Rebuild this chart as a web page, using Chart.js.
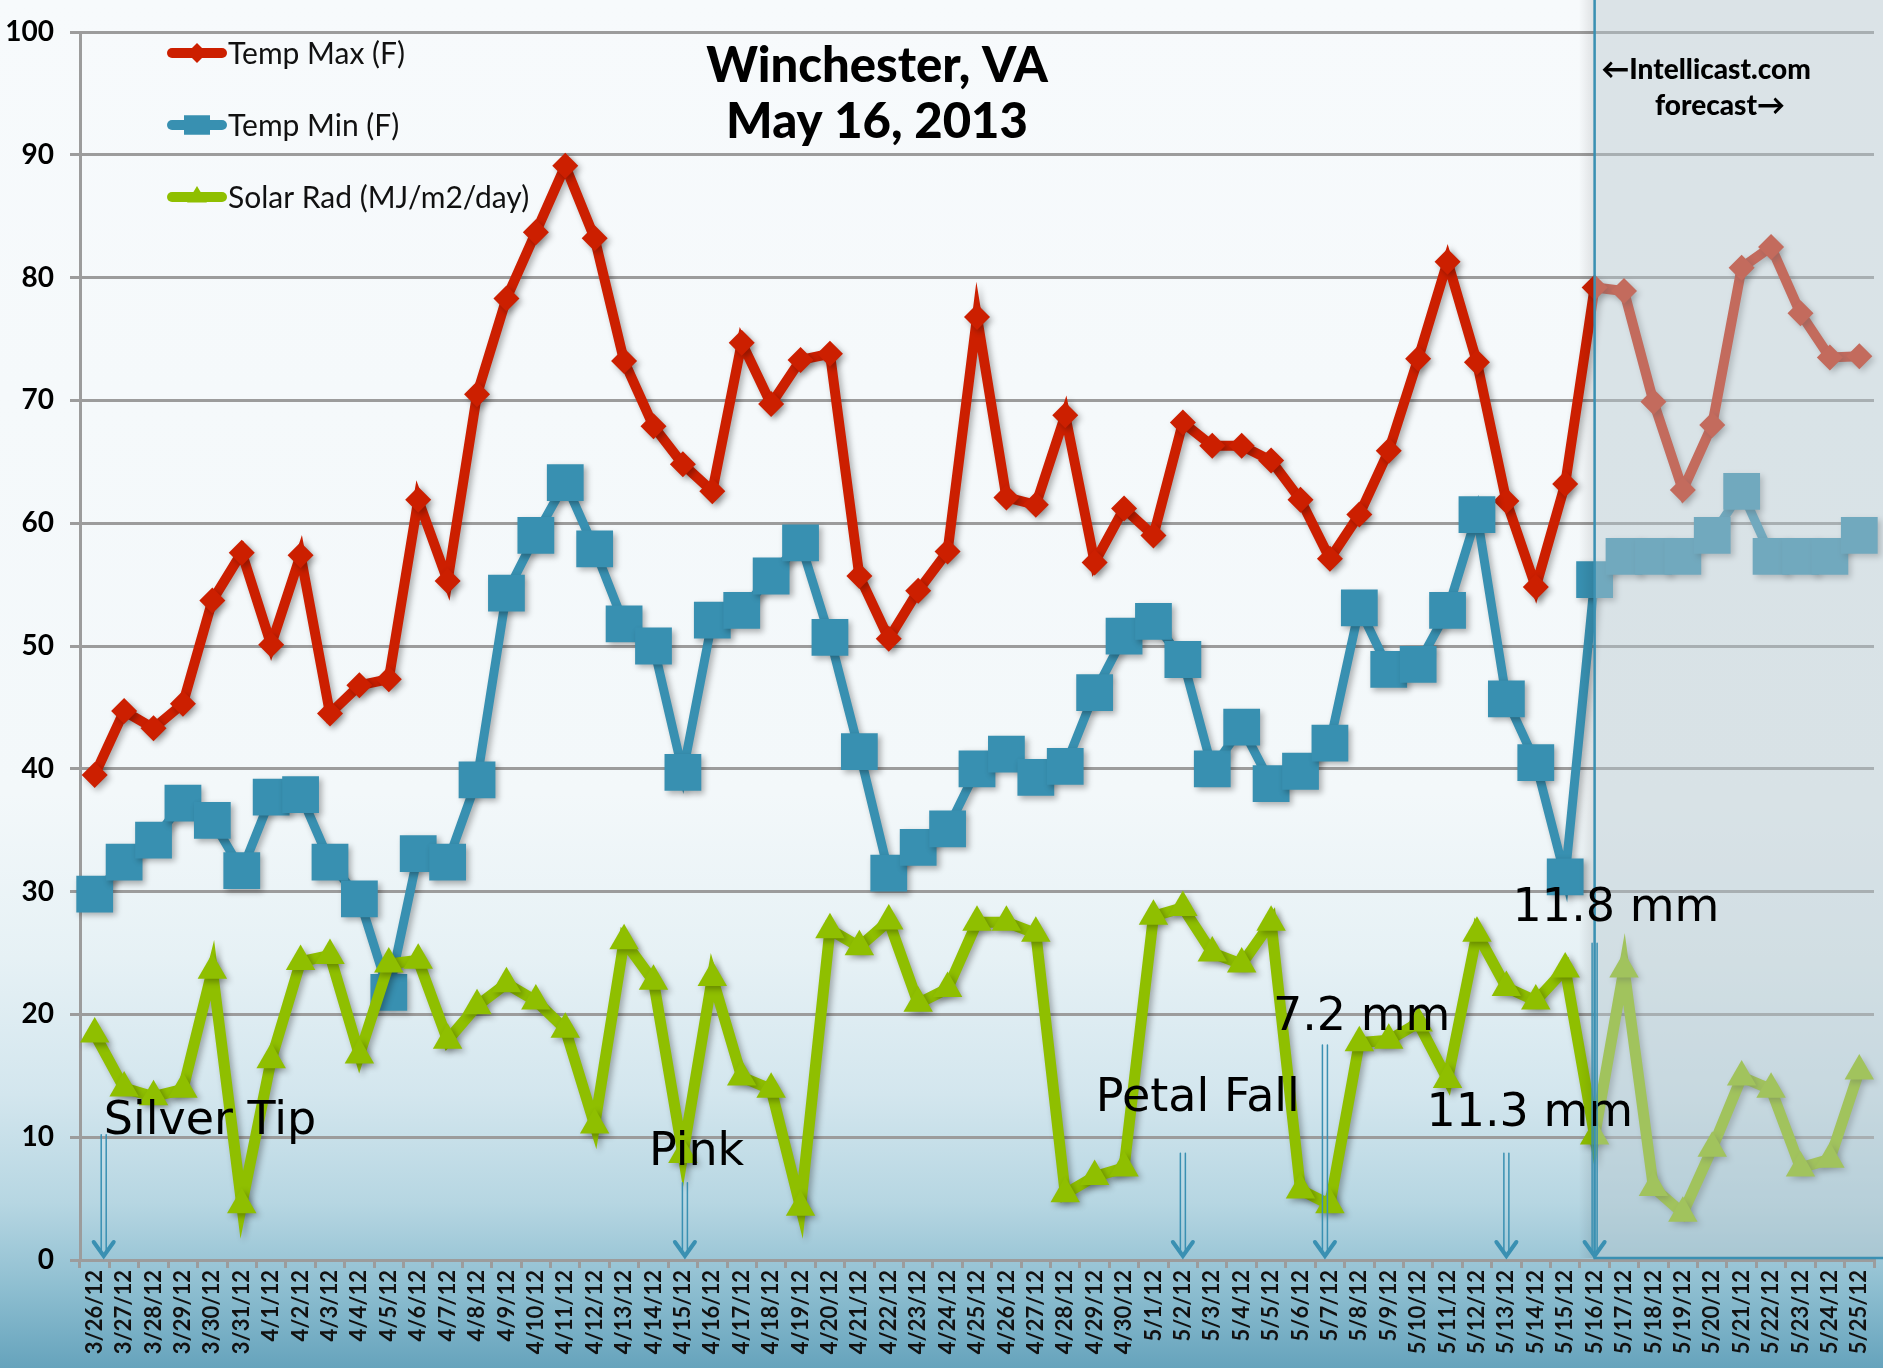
<!DOCTYPE html>
<html>
<head>
<meta charset="utf-8">
<title>Winchester, VA</title>
<script src="https://cdn.jsdelivr.net/npm/chart.js@4.4.0/dist/chart.umd.min.js"></script>
<style>
  html, body { margin: 0; padding: 0; background: #f6f9fc; overflow: hidden; width: 1883px; height: 1368px; }
  canvas { display: block; }
</style>
</head>
<body>
<canvas id="grafico" width="1883" height="1368"></canvas>
<script>
const datas = [
  "3/26/12", "3/27/12", "3/28/12", "3/29/12", "3/30/12", "3/31/12",
  "4/1/12", "4/2/12", "4/3/12", "4/4/12", "4/5/12", "4/6/12", "4/7/12", "4/8/12", "4/9/12", "4/10/12",
  "4/11/12", "4/12/12", "4/13/12", "4/14/12", "4/15/12", "4/16/12", "4/17/12", "4/18/12", "4/19/12", "4/20/12",
  "4/21/12", "4/22/12", "4/23/12", "4/24/12", "4/25/12", "4/26/12", "4/27/12", "4/28/12", "4/29/12", "4/30/12",
  "5/1/12", "5/2/12", "5/3/12", "5/4/12", "5/5/12", "5/6/12", "5/7/12", "5/8/12", "5/9/12", "5/10/12",
  "5/11/12", "5/12/12", "5/13/12", "5/14/12", "5/15/12", "5/16/12", "5/17/12", "5/18/12", "5/19/12", "5/20/12",
  "5/21/12", "5/22/12", "5/23/12", "5/24/12", "5/25/12"
];

const tempMax = [
  39.5, 44.7, 43.3, 45.3, 53.7, 57.6,
  50.1, 57.4, 44.5, 46.8, 47.3, 61.9, 55.3, 70.5, 78.3, 83.7,
  89.1, 83.2, 73.2, 67.9, 64.8, 62.6, 74.7, 69.7, 73.3, 73.8,
  55.7, 50.6, 54.5, 57.7, 76.8, 62.1, 61.5, 68.8, 56.8, 61.2,
  59.0, 68.2, 66.3, 66.3, 65.1, 61.9, 57.1, 60.7, 65.9, 73.4,
  81.3, 73.1, 61.8, 54.8, 63.2, 79.2, 78.9, 69.9, 62.7, 68.0,
  80.8, 82.5, 77.1, 73.5, 73.6
];

const tempMin = [
  29.8, 32.4, 34.2, 37.2, 35.8, 31.7,
  37.7, 37.9, 32.4, 29.4, 21.8, 33.1, 32.4, 39.1, 54.3, 59.0,
  63.3, 57.9, 51.8, 50.0, 39.7, 52.1, 52.9, 55.7, 58.4, 50.7,
  41.4, 31.5, 33.6, 35.1, 40.0, 41.2, 39.3, 40.2, 46.2, 50.8,
  52.0, 48.9, 40.0, 43.4, 38.8, 39.8, 42.1, 53.1, 48.1, 48.5,
  52.9, 60.7, 45.7, 40.5, 31.2, 55.4, 57.3, 57.3, 57.3, 59.0,
  62.6, 57.3, 57.3, 57.3, 59.0
];

const solarRad = [
  18.4, 14.0, 13.3, 13.9, 23.6, 4.5,
  16.3, 24.3, 24.8, 16.7, 24.1, 24.4, 17.9, 20.7, 22.5, 21.1,
  18.8, 11.0, 26.0, 22.7, 8.6, 23.0, 14.9, 13.9, 4.3, 26.9,
  25.5, 27.6, 20.9, 22.1, 27.5, 27.5, 26.6, 5.4, 6.8, 7.5,
  28.0, 28.7, 25.0, 24.1, 27.5, 5.7, 4.5, 17.7, 17.9, 19.3,
  14.7, 26.6, 22.2, 21.1, 23.7, 10.1, 23.7, 5.9, 3.8, 9.1,
  14.9, 13.9, 7.5, 8.2, 15.4
];

const inicioPrevisao = "5/16/12";

// texto, dia da seta, altura do texto e topo da seta (em unidades do eixo y)
const notas = [
  { texto: "Silver Tip", dia: "3/26/12", yTexto: 11.2, ySeta: 10.2, dx: 9, tx: 0 },
  { texto: "Pink", dia: "4/15/12", yTexto: 8.7, ySeta: 6.3, dx: 2, tx: -36 },
  { texto: "Petal Fall", dia: "5/2/12", yTexto: 13.1, ySeta: 8.7, dx: 0, tx: -87 },
  { texto: "7.2 mm", dia: "5/7/12", yTexto: 19.7, ySeta: 17.5, dx: -5, tx: -52 },
  { texto: "11.3 mm", dia: "5/13/12", yTexto: 11.9, ySeta: 8.7, dx: 0, tx: -80 },
  { texto: "11.8 mm", dia: "5/16/12", yTexto: 28.6, ySeta: 25.8, dx: 0, tx: -82 }
];

const vermelho = "#cc1f00";
const azul = "#3890b1";
const verde = "#8fbf00";
const cinza = "#9c9c9c";
const fonte = "Lato, 'Open Sans', sans-serif";

const fundoPlugin = {
  id: "fundo",
  beforeDraw(chart) {
    const ctx = chart.ctx;
    const g = ctx.createLinearGradient(0, 0, 0, chart.height);
    g.addColorStop(0, "#f7fafc");
    g.addColorStop(0.58, "#f3f8fa");
    g.addColorStop(0.7, "#e6f1f5");
    g.addColorStop(0.8, "#d3e6ee");
    g.addColorStop(0.88, "#b6d6e2");
    g.addColorStop(0.94, "#8fbfd1");
    g.addColorStop(1, "#66a3bc");
    ctx.save();
    ctx.fillStyle = g;
    ctx.fillRect(0, 0, chart.width, chart.height);
    ctx.restore();
  }
};

const sombraPlugin = {
  id: "sombra",
  beforeDatasetsDraw(chart) {
    const ctx = chart.ctx;
    ctx.save();
    ctx.shadowColor = "rgba(0,0,0,0.3)";
    ctx.shadowBlur = 6;
    ctx.shadowOffsetX = 3;
    ctx.shadowOffsetY = 3;
  },
  afterDatasetsDraw(chart) {
    chart.ctx.restore();
  }
};

const previsaoPlugin = {
  id: "previsao",
  afterDatasetsDraw(chart) {
    const ctx = chart.ctx;
    const x0 = chart.scales.x.getPixelForValue(datas.indexOf(inicioPrevisao));
    const base = chart.chartArea.bottom - 2;
    ctx.save();
    ctx.fillStyle = "rgba(185,200,206,0.45)";
    ctx.fillRect(x0, 0, chart.width - x0, base);
    const s = ctx.createLinearGradient(x0 - 16, 0, x0, 0);
    s.addColorStop(0, "rgba(0,0,0,0)");
    s.addColorStop(1, "rgba(0,0,0,0.10)");
    ctx.fillStyle = s;
    ctx.fillRect(x0 - 16, 0, 16, base);
    ctx.strokeStyle = "#3a90b2";
    ctx.lineWidth = 2.5;
    ctx.beginPath();
    ctx.moveTo(x0, 0);
    ctx.lineTo(x0, base);
    ctx.lineTo(chart.width, base);
    ctx.stroke();
    ctx.restore();
  }
};

function desenharMarcador(ctx, tipo, x, y, r, cor) {
  ctx.fillStyle = cor;
  ctx.beginPath();
  if (tipo === "rectRot") {
    ctx.moveTo(x - r, y);
    ctx.lineTo(x, y - r);
    ctx.lineTo(x + r, y);
    ctx.lineTo(x, y + r);
  } else if (tipo === "rect") {
    ctx.rect(x - r, y - r * 0.75, 2 * r, 1.5 * r);
  } else {
    ctx.moveTo(x, y - r);
    ctx.lineTo(x + r * 0.9, y + r * 0.5);
    ctx.lineTo(x - r * 0.9, y + r * 0.5);
  }
  ctx.closePath();
  ctx.fill();
}

function desenharSeta(ctx, x, yTopo, yBase) {
  ctx.strokeStyle = "#3a90b2";
  ctx.lineWidth = 1.5;
  ctx.beginPath();
  ctx.moveTo(x - 2.5, yTopo);
  ctx.lineTo(x - 2.5, yBase - 6);
  ctx.moveTo(x + 2.5, yTopo);
  ctx.lineTo(x + 2.5, yBase - 6);
  ctx.stroke();
  ctx.lineWidth = 4;
  ctx.lineJoin = "miter";
  ctx.beginPath();
  ctx.moveTo(x - 10, yBase - 18);
  ctx.lineTo(x, yBase - 4);
  ctx.lineTo(x + 10, yBase - 18);
  ctx.stroke();
}

const textosPlugin = {
  id: "textos",
  afterDraw(chart) {
    const ctx = chart.ctx;
    const xs = chart.scales.x;
    const ys = chart.scales.y;
    ctx.save();

    // legenda
    const tipos = ["rectRot", "rect", "triangle"];
    const raios = [10, 13, 11];
    chart.data.datasets.forEach((d, i) => {
      const y = 53 + i * 72;
      ctx.strokeStyle = d.borderColor;
      ctx.lineWidth = 10;
      ctx.lineCap = "round";
      ctx.beginPath();
      ctx.moveTo(172, y);
      ctx.lineTo(222, y);
      ctx.stroke();
      desenharMarcador(ctx, tipos[i], 197, y, raios[i], d.borderColor);
      ctx.fillStyle = "#111";
      ctx.font = "30px " + fonte;
      ctx.textAlign = "left";
      ctx.textBaseline = "middle";
      ctx.fillText(d.label, 228, y + 1);
    });

    // titulo
    ctx.fillStyle = "#000";
    ctx.textAlign = "center";
    ctx.font = "900 49px " + fonte;
    ctx.fillText("Winchester, VA", 877, 66);
    ctx.fillText("May 16, 2013", 877, 122);

    ctx.font = "900 28px " + fonte;
    ctx.fillText("\u2190Intellicast.com", 1706, 70);
    ctx.fillText("forecast\u2192", 1720, 106);

    // notas e setas
    ctx.font = "46px 'DejaVu Sans', sans-serif";
    ctx.textAlign = "left";
    notas.forEach((n) => {
      const x = xs.getPixelForValue(datas.indexOf(n.dia)) + n.dx;
      desenharSeta(ctx, x, ys.getPixelForValue(n.ySeta), ys.getPixelForValue(0));
      ctx.fillStyle = "#000";
      ctx.fillText(n.texto, x + n.tx, ys.getPixelForValue(n.yTexto));
    });
    ctx.restore();
  }
};

const ctx = document.getElementById("grafico").getContext("2d");

const grafico = new Chart(ctx, {
  type: "line",
  data: {
    labels: datas,
    datasets: [
      {
        label: "Temp Max (F)",
        data: tempMax,
        borderColor: vermelho,
        backgroundColor: vermelho,
        borderWidth: 10,
        pointStyle: "rectRot",
        pointRadius: 13,
        pointBorderWidth: 0,
        order: 3
      },
      {
        label: "Temp Min (F)",
        data: tempMin,
        borderColor: azul,
        backgroundColor: azul,
        borderWidth: 9,
        pointStyle: "rect",
        pointRadius: 26,
        pointBorderWidth: 0,
        order: 2
      },
      {
        label: "Solar Rad (MJ/m2/day)",
        data: solarRad,
        borderColor: verde,
        backgroundColor: verde,
        borderWidth: 11,
        pointStyle: "triangle",
        pointRadius: 17,
        pointBorderWidth: 0,
        order: 1
      }
    ]
  },
  options: {
    responsive: false,
    animation: false,
    events: [],
    layout: { autoPadding: false, padding: { top: 32, right: 9, left: 0, bottom: 0 } },
    plugins: {
      legend: { display: false },
      tooltip: { enabled: false }
    },
    scales: {
      x: {
        offset: true,
        grid: { display: true, drawOnChartArea: false, drawTicks: true, tickLength: 8, color: cinza, lineWidth: 3, offset: true },
        border: { color: cinza, width: 3 },
        ticks: { autoSkip: false, maxRotation: 90, minRotation: 90, padding: 2, color: "#111", font: { family: fonte, size: 22, weight: "bold" } },
        afterFit(s) {
          s.height = 108;
          s.paddingLeft = 0;
          s.paddingRight = 0;
        }
      },
      y: {
        min: 0,
        max: 100,
        ticks: { stepSize: 10, padding: 16, color: "#000", font: { family: fonte, size: 28, weight: "bold" } },
        grid: { color: cinza, lineWidth: 3, tickLength: 10 },
        border: { color: cinza, width: 3 },
        afterFit(s) {
          s.width = 80;
          s.paddingTop = 0;
          s.paddingBottom = 0;
        }
      }
    }
  },
  plugins: [fundoPlugin, sombraPlugin, previsaoPlugin, textosPlugin]
});
</script>
</body>
</html>
